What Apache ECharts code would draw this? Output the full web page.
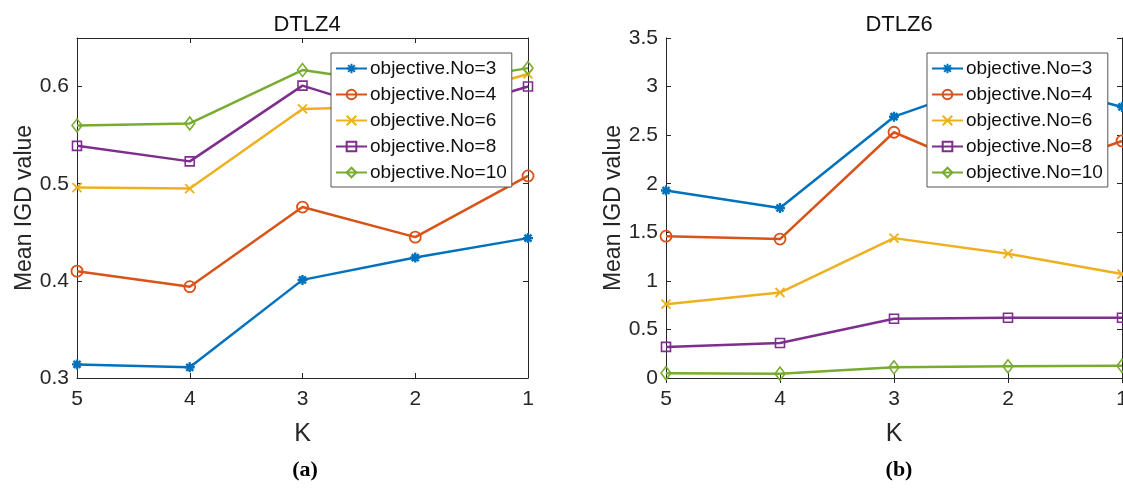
<!DOCTYPE html>
<html>
<head>
<meta charset="utf-8">
<script src="https://cdn.jsdelivr.net/npm/echarts@6/dist/echarts.min.js"></script>
<style>html,body{margin:0;padding:0;background:#fff;}#c{width:1123px;height:491px;}</style>
</head>
<body>
<div id="c"></div>
<script>
// ---- data ----
const categories = ['5', '4', '3', '2', '1'];
const seriesNames = ['objective.No=3', 'objective.No=4', 'objective.No=6', 'objective.No=8', 'objective.No=10'];
const dtlz4_obj3  = [0.314, 0.311, 0.401, 0.424, 0.444];
const dtlz4_obj4  = [0.410, 0.394, 0.476, 0.445, 0.508];
const dtlz4_obj6  = [0.496, 0.495, 0.577, 0.580, 0.613];
const dtlz4_obj8  = [0.539, 0.523, 0.601, 0.565, 0.600];
const dtlz4_obj10 = [0.560, 0.562, 0.617, 0.600, 0.619];
const dtlz6_obj3  = [1.93, 1.75, 2.69, 3.10, 2.79];
const dtlz6_obj4  = [1.46, 1.43, 2.53, 2.03, 2.44];
const dtlz6_obj6  = [0.76, 0.88, 1.44, 1.28, 1.07];
const dtlz6_obj8  = [0.32, 0.36, 0.61, 0.62, 0.62];
const dtlz6_obj10 = [0.05, 0.045, 0.11, 0.12, 0.125];
const dtlz4Ticks = { min: 0.3, max: 0.65, interval: 0.1 };
const dtlz6Ticks = { min: 0, max: 3.5, interval: 0.5 };

// ---- styling ----
const FONT = '"Liberation Sans", Arial, Helvetica, sans-serif';
const AX = '#262626';
const colors = ['#0072BD', '#D95319', '#EDB120', '#7E2F8E', '#77AC30'];
const symbols = [
  'path://M5,0L5,10M0,5L10,5M1.5,1.5L8.5,8.5M8.5,1.5L1.5,8.5',
  'circle',
  'path://M0,0L10,10M10,0L0,10',
  'rect',
  'diamond'
];
const symSizes = [10, 11, 9, 9, [10, 13]];
const borderW = [2.4, 1.8, 1.9, 1.6, 1.6];

const grids = [
  { left: 77, top: 38, width: 451, height: 340, outerBoundsMode: 'none', containLabel: false },
  { left: 666, top: 38, width: 456, height: 340, outerBoundsMode: 'none', containLabel: false }
];

function xAxes(gi) {
  return [
    {
      type: 'category', gridIndex: gi, data: categories, boundaryGap: false,
      name: 'K', nameLocation: 'middle', nameGap: 44,
      nameTextStyle: { fontFamily: FONT, fontSize: 25, color: AX },
      axisLine: { show: true, lineStyle: { color: AX, width: 1 } },
      axisTick: { show: true, inside: true, length: 5, alignWithLabel: true, lineStyle: { color: AX } },
      axisLabel: { fontFamily: FONT, fontSize: 21, color: AX, margin: 11 },
      splitLine: { show: false }
    },
    {
      type: 'category', gridIndex: gi, data: categories, boundaryGap: false, position: 'top',
      axisLine: { show: true, lineStyle: { color: AX, width: 1 } },
      axisTick: { show: true, inside: true, length: 5, lineStyle: { color: AX } },
      axisLabel: { show: false }, splitLine: { show: false }
    }
  ];
}
function yAxes(gi, t) {
  const maxOnTick = Math.abs(Math.round((t.max - t.min) / t.interval) * t.interval - (t.max - t.min)) < 1e-9;
  return [
    {
      type: 'value', gridIndex: gi, min: t.min, max: t.max, interval: t.interval,
      name: 'Mean IGD value', nameLocation: 'middle', nameGap: 41,
      nameTextStyle: { fontFamily: FONT, fontSize: 23, color: AX },
      axisLine: { show: true, lineStyle: { color: AX, width: 1 } },
      axisTick: { show: true, inside: true, length: 5, lineStyle: { color: AX } },
      axisLabel: { fontFamily: FONT, fontSize: 21, color: AX, margin: 8, showMaxLabel: maxOnTick },
      splitLine: { show: false }
    },
    {
      type: 'value', gridIndex: gi, min: t.min, max: t.max, interval: t.interval, position: 'right',
      axisLine: { show: true, lineStyle: { color: AX, width: 1 } },
      axisTick: { show: true, inside: true, length: 5, lineStyle: { color: AX } },
      axisLabel: { show: false }, splitLine: { show: false }
    }
  ];
}

function makeSeries(arrs, axisIdx) {
  return arrs.map((d, i) => ({
    type: 'line', name: seriesNames[i], data: d,
    xAxisIndex: axisIdx, yAxisIndex: axisIdx,
    color: colors[i],
    symbol: symbols[i], symbolSize: symSizes[i], showAllSymbol: true,
    lineStyle: { color: colors[i], width: 2.5 },
    itemStyle: { color: 'none', borderColor: colors[i], borderWidth: borderW[i] },
    emphasis: { disabled: true },
    animation: false, z: 2, zlevel: 0
  }));
}

function legend(left) {
  return {
    orient: 'vertical', left: left, top: 53, z: 20, zlevel: 1,
    data: seriesNames,
    backgroundColor: '#fff', borderColor: '#555', borderWidth: 1,
    padding: [6, 5, 5, 4], itemGap: 7, itemWidth: 31, itemHeight: 12,
    textStyle: { fontFamily: FONT, fontSize: 19, color: '#111', padding: [0, 0, 0, -2] },
    selectedMode: false
  };
}

const chart = echarts.init(document.getElementById('c'), null, { renderer: 'canvas' });
const s4 = makeSeries([dtlz4_obj3, dtlz4_obj4, dtlz4_obj6, dtlz4_obj8, dtlz4_obj10], 0);
const s6 = makeSeries([dtlz6_obj3, dtlz6_obj4, dtlz6_obj6, dtlz6_obj8, dtlz6_obj10], 2);
chart.setOption({
  backgroundColor: '#fff',
  animation: false,
  title: [
    { text: 'DTLZ4', left: 302, top: 9, textAlign: 'center', textStyle: { fontFamily: FONT, fontSize: 22, fontWeight: 'normal', color: '#111' } },
    { text: 'DTLZ6', left: 894, top: 9, textAlign: 'center', textStyle: { fontFamily: FONT, fontSize: 22, fontWeight: 'normal', color: '#111' } },
    { text: '(a)', left: 300, top: 454, textAlign: 'center', textStyle: { fontFamily: '"Liberation Serif", "Times New Roman", serif', fontSize: 22, fontWeight: 'bold', color: '#000' } },
    { text: '(b)', left: 894, top: 454, textAlign: 'center', textStyle: { fontFamily: '"Liberation Serif", "Times New Roman", serif', fontSize: 22, fontWeight: 'bold', color: '#000' } }
  ],
  legend: [legend(331), legend(927)],
  grid: grids,
  xAxis: [...xAxes(0), ...xAxes(1)],
  yAxis: [...yAxes(0, dtlz4Ticks), ...yAxes(1, dtlz6Ticks)],
  series: [...s4, ...s6]
});
</script>
</body>
</html>
